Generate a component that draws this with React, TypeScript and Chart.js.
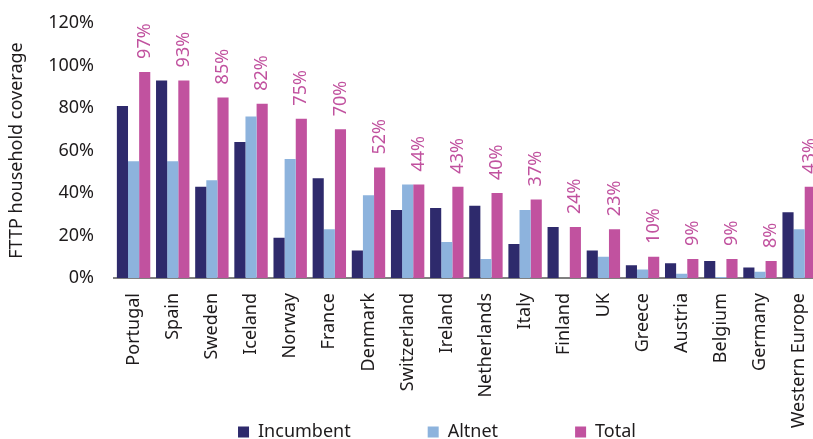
import React, { useEffect, useRef } from "react";
import { Chart, registerables } from "chart.js";

Chart.register(...registerables);

const categories = [
  "Portugal", "Spain", "Sweden", "Iceland", "Norway", "France", "Denmark",
  "Switzerland", "Ireland", "Netherlands", "Italy", "Finland", "UK", "Greece",
  "Austria", "Belgium", "Germany", "Western Europe",
];
const incumbent = [81, 93, 43, 64, 19, 47, 13, 32, 33, 34, 16, 24, 13, 6, 7, 8, 5, 31];
const altnet = [55, 55, 46, 76, 56, 23, 39, 44, 17, 9, 32, 0, 10, 4, 2, 0.5, 3, 23];
const total = [97, 93, 85, 82, 75, 70, 52, 44, 43, 40, 37, 24, 23, 10, 9, 9, 8, 43];
const yTicks = [0, 20, 40, 60, 80, 100, 120];

const FONT = "'Noto Sans', sans-serif";
const C_INC = "#2e2a6c";
const C_ALT = "#8db3dd";
const C_TOT = "#c1529f";
const TEXT = "#1e1b1c";

const totalLabels = {
  id: "totalLabels",
  afterDatasetsDraw(chart: any) {
    const meta = chart.getDatasetMeta(2);
    const ctx = chart.ctx;
    ctx.save();
    ctx.font = `18px ${FONT}`;
    ctx.fillStyle = C_TOT;
    ctx.textAlign = "left";
    ctx.textBaseline = "middle";
    meta.data.forEach((bar: any, i: number) => {
      ctx.save();
      ctx.translate(bar.x, bar.y - 13);
      ctx.rotate(-Math.PI / 2);
      ctx.fillText(`${total[i]}%`, 0, 0);
      ctx.restore();
    });
    ctx.restore();
  },
};

const customLegend = {
  id: "customLegend",
  afterDraw(chart: any) {
    const ctx = chart.ctx;
    const items = chart.data.datasets.map((d: any) => ({ label: d.label, color: d.backgroundColor }));
    ctx.save();
    ctx.font = `18px ${FONT}`;
    const box = 11, gapText = 9, gapItem = 77;
    const widths = items.map((it: any) => box + gapText + ctx.measureText(it.label).width);
    const totalW = widths.reduce((a: number, b: number) => a + b, 0) + gapItem * (items.length - 1);
    let x = 437 - totalW / 2;
    const y = 432;
    ctx.textBaseline = "middle";
    ctx.textAlign = "left";
    items.forEach((it: any, i: number) => {
      ctx.fillStyle = it.color;
      ctx.fillRect(x, y - box / 2, box, box);
      ctx.fillStyle = TEXT;
      ctx.fillText(it.label, x + box + gapText, y);
      x += widths[i] + gapItem;
    });
    ctx.restore();
  },
};

export default function App() {
  const ref = useRef<HTMLCanvasElement>(null);
  useEffect(() => {
    if (!ref.current) return;
    const chart = new Chart(ref.current, {
      type: "bar",
      data: {
        labels: categories,
        datasets: [
          { label: "Incumbent", data: incumbent, backgroundColor: C_INC },
          { label: "Altnet", data: altnet, backgroundColor: C_ALT },
          { label: "Total", data: total, backgroundColor: C_TOT },
        ],
      },
      options: {
        animation: false,
        responsive: false,
        layout: { padding: { top: 23, right: 9, bottom: 0, left: 0 } },
        datasets: { bar: { barPercentage: 1, categoryPercentage: 0.853 } },
        plugins: { legend: { display: false }, tooltip: { enabled: false } },
        scales: {
          x: {
            grid: { display: false },
            border: { display: true, color: "#808080", width: 2 },
            ticks: {
              color: TEXT,
              font: { family: FONT, size: 18 },
              maxRotation: 90,
              minRotation: 90,
              padding: 7,
              autoSkip: false,
            },
            afterFit(scale: any) {
              scale.height = 161;
            },
          },
          y: {
            min: 0,
            max: 120,
            afterBuildTicks(scale: any) {
              scale.ticks = yTicks.map((v) => ({ value: v }));
            },
            grid: { display: false },
            border: { display: false },
            ticks: {
              color: TEXT,
              font: { family: FONT, size: 18 },
              padding: 12,
              callback: (v: any) => `${v}%`,
            },
            title: {
              display: true,
              text: "FTTP household coverage",
              color: TEXT,
              font: { family: FONT, size: 18 },
              padding: { top: 6, bottom: 0 },
            },
            afterFit(scale: any) {
              scale.width = 114;
            },
          },
        },
      },
      plugins: [totalLabels, customLegend],
    });
    return () => chart.destroy();
  }, []);
  return (
    <div style={{ position: "fixed", left: 0, top: 0, width: 813, height: 439, overflow: "hidden", background: "#fff" }}>
      <canvas ref={ref} width={828} height={439} style={{ width: 828, height: 439 }} />
    </div>
  );
}
